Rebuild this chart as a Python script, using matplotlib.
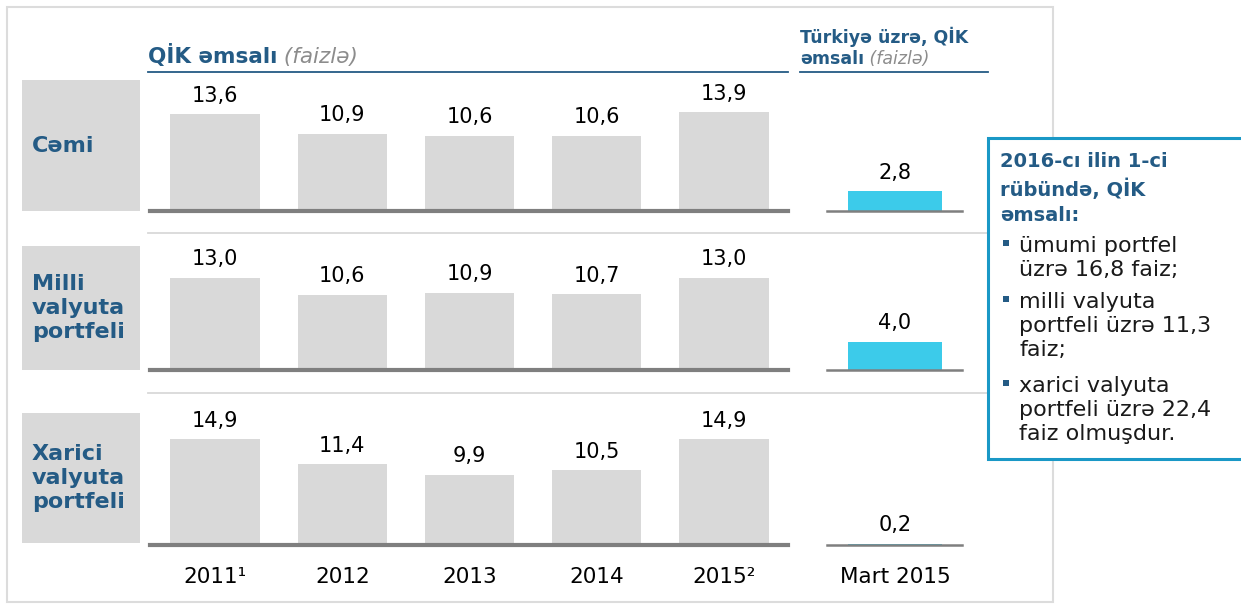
import matplotlib
matplotlib.use("Agg")
import matplotlib.pyplot as plt
from matplotlib.patches import Rectangle

plt.rcParams['font.family'] = ['DejaVu Sans']

years = ['2011¹', '2012', '2013', '2014', '2015²']
turkey_label = 'Mart 2015'
row_labels = ['Cəmi', 'Milli\nvalyuta\nportfeli', 'Xarici\nvalyuta\nportfeli']
qik_total = [13.6, 10.9, 10.6, 10.6, 13.9]
qik_local = [13.0, 10.6, 10.9, 10.7, 13.0]
qik_foreign = [14.9, 11.4, 9.9, 10.5, 14.9]
turkey = [2.8, 4.0, 0.2]
box_title = '2016-cı ilin 1-ci\nrübündə, QİK\nəmsalı:'
box_items = ['ümumi portfel\nüzrə 16,8 faiz;',
             'milli valyuta\nportfeli üzrə 11,3\nfaiz;',
             'xarici valyuta\nportfeli üzrə 22,4\nfaiz olmuşdur.']

W, H = 1241, 606
BLUE = '#245b85'
GREY_BAR = '#d9d9d9'
BASE = '#7f7f7f'
CYAN = '#3ccbea'
PX_PER_UNIT = 7.1

fig = plt.figure(figsize=(W / 100, H / 100), dpi=100)

# background overlay in pixel coordinates
bg = fig.add_axes([0, 0, 1, 1])
bg.set_xlim(0, W)
bg.set_ylim(H, 0)
bg.axis('off')

bg.add_patch(Rectangle((7, 7), 1046, 595, fill=False, ec='#dcdcdc', lw=1.5))

# headers
t1 = bg.text(148, 63, 'QİK əmsalı', color=BLUE, fontsize=15.5, fontweight='bold', va='baseline')
bg.annotate(' (faizlə)', xy=(1, 0), xycoords=t1, va='bottom', ha='left',
            color='#8c8c8c', fontsize=15.5, style='italic')
bg.plot([148, 788], [72, 72], color=BLUE, lw=1.3)
bg.text(800, 43, 'Türkiyə üzrə, QİK', color=BLUE, fontsize=12.5, fontweight='bold', va='baseline')
t2 = bg.text(800, 64, 'əmsalı', color=BLUE, fontsize=12.5, fontweight='bold', va='baseline')
bg.annotate(' (faizlə)', xy=(1, 0), xycoords=t2, va='bottom', ha='left',
            color='#8c8c8c', fontsize=12.5, style='italic')
bg.plot([800, 988], [72, 72], color=BLUE, lw=1.3)

# row separators
for y in [233, 393]:
    bg.plot([148, 1053], [y, y], color='#d9d9d9', lw=1.3)

# row label boxes
boxes = [(80, 211), (246, 370), (413, 543)]
for (top, bot), lab in zip(boxes, row_labels):
    bg.add_patch(Rectangle((22, top), 118, bot - top, color=GREY_BAR, lw=0))
    bg.text(32, (top + bot) / 2, lab, color=BLUE, fontsize=16, fontweight='bold',
            va='center', ha='left', linespacing=1.25)

# info box
bg.add_patch(Rectangle((988, 138), 270, 321, fill=True, fc='white', ec='#1a98c6', lw=2.2, zorder=5))
bg.text(1000, 152, box_title, color=BLUE, fontsize=14, fontweight='bold',
        va='top', ha='left', linespacing=1.42, zorder=6)
item_centers = [246, 302, 386]
for c, item in zip(item_centers, box_items):
    bg.add_patch(Rectangle((1003, c - 6), 6, 6, color=BLUE, lw=0, zorder=6))
    bg.text(1019, c - 10, item, color='#1a1a1a', fontsize=16, va='top', ha='left',
            linespacing=1.26, zorder=6)

# bar panels
series = [qik_total, qik_local, qik_foreign]
baselines = [211, 370, 545]
tops = [80, 246, 413]
spacing = 127.2
for i, (vals, base, top) in enumerate(zip(series, baselines, tops)):
    ax = fig.add_axes([150 / W, 1 - base / H, (788 - 150) / W, (base - top) / H])
    ax.bar(range(len(vals)), vals, width=0.70, color=GREY_BAR, zorder=1)
    ax.set_xlim(-65 / spacing, 4 + 64 / spacing)
    ax.set_ylim(0, (base - top) / PX_PER_UNIT)
    ax.axhline(0, color=BASE, lw=3, clip_on=False, zorder=2)
    for x, v in enumerate(vals):
        ax.annotate(f'{v:.1f}'.replace('.', ','), (x, v), xytext=(0, 6),
                    textcoords='offset points', ha='center', va='bottom', fontsize=15)
    ax.axis('off')
    if i == 2:
        for x, y in enumerate(years):
            ax.annotate(y, (x, 0), xytext=(0, -15.5), textcoords='offset points',
                        ha='center', va='top', fontsize=15.5)

    tx = fig.add_axes([827 / W, 1 - base / H, 135 / W, (base - top) / H])
    tx.bar([0], [turkey[i]], width=0.70, color=CYAN, zorder=1)
    tx.set_xlim(-68 / 135, 67 / 135)
    tx.set_ylim(0, (base - top) / PX_PER_UNIT)
    tx.axhline(0, color=BASE, lw=1.8, clip_on=False, zorder=2)
    tx.annotate(f'{turkey[i]:.1f}'.replace('.', ','), (0, turkey[i]), xytext=(0, 6),
                textcoords='offset points', ha='center', va='bottom', fontsize=15)
    tx.axis('off')
    if i == 2:
        tx.annotate(turkey_label, (0, 0), xytext=(0, -15.5), textcoords='offset points',
                    ha='center', va='top', fontsize=15.5)

fig.savefig('out.png', dpi=100)
